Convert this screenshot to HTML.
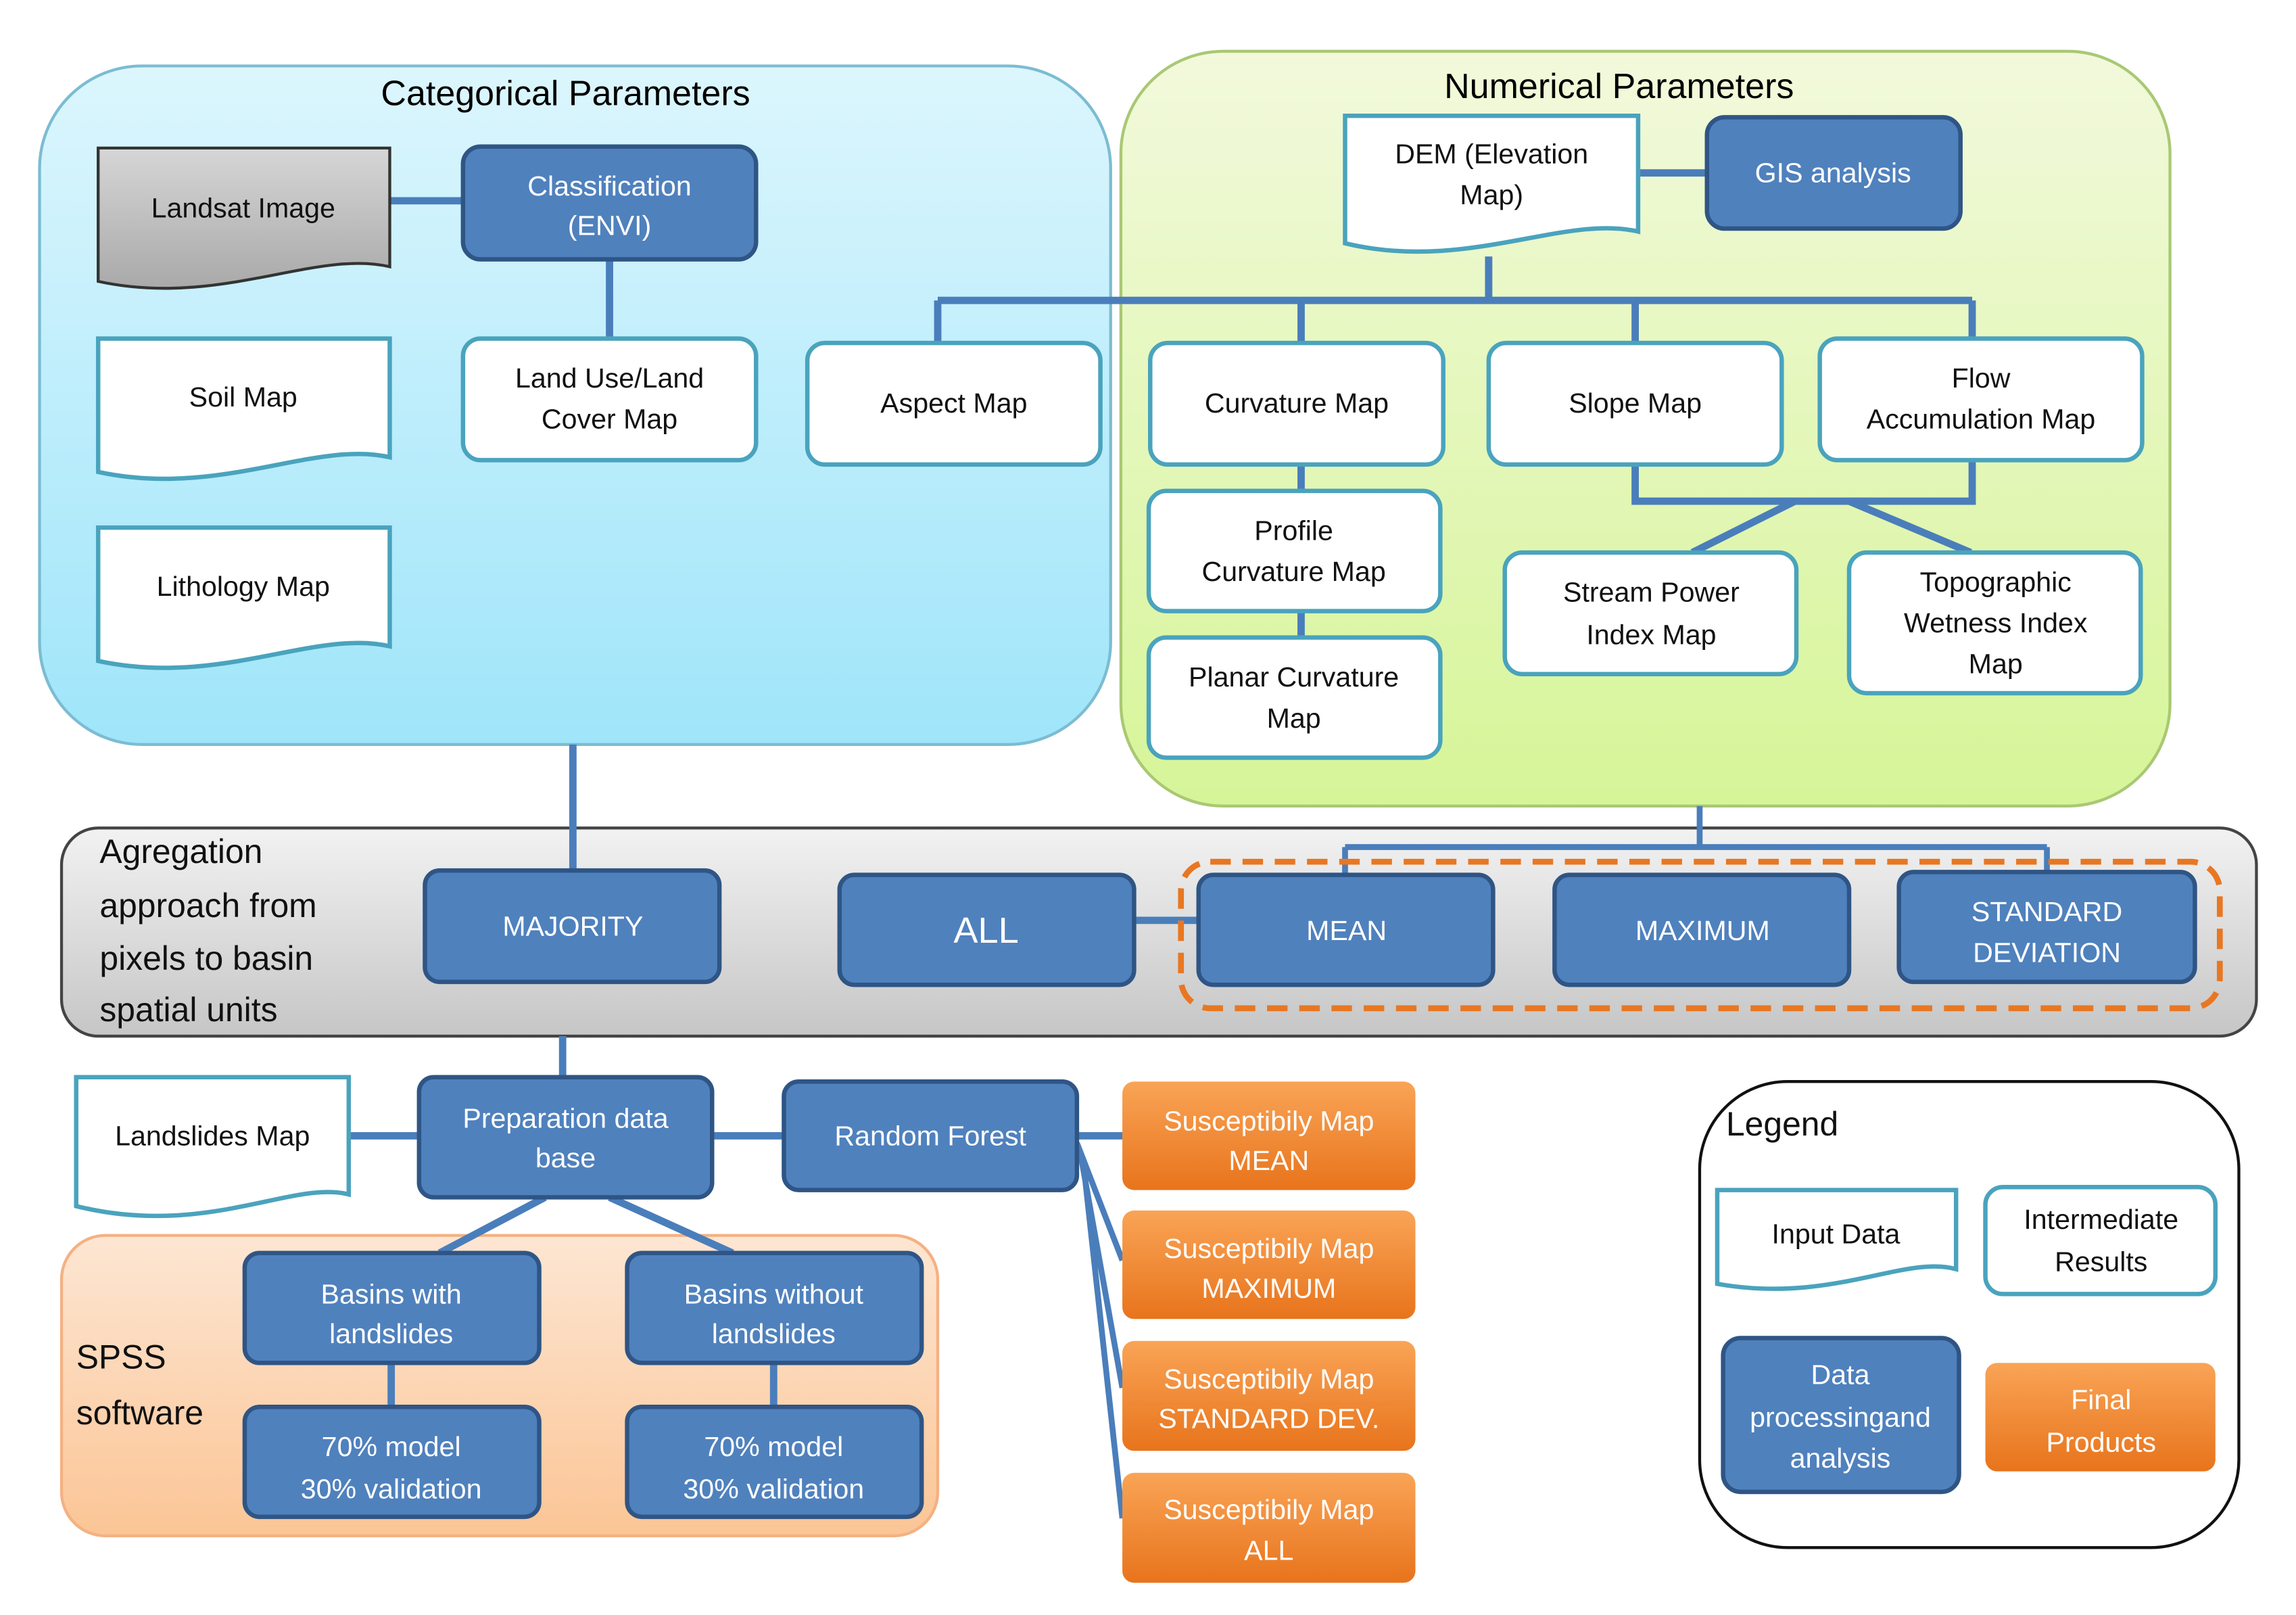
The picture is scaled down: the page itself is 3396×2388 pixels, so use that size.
<!DOCTYPE html>
<html><head><meta charset="utf-8"><style>html,body{margin:0;padding:0;background:#fff}svg{display:block}text{font-family:"Liberation Sans",sans-serif;font-size:19px;text-anchor:middle;dominant-baseline:central}text.big{font-size:23px;text-anchor:start}</style></head><body>
<svg width="3396" height="2388" viewBox="0 0 1567 1102" preserveAspectRatio="none" xmlns="http://www.w3.org/2000/svg">
<defs>
<linearGradient id="gc" x1="0" y1="0" x2="0" y2="1"><stop offset="0" stop-color="#dcf6fd"/><stop offset="1" stop-color="#9fe5fa"/></linearGradient>
<linearGradient id="gn" x1="0" y1="0" x2="0" y2="1"><stop offset="0" stop-color="#f2f9dc"/><stop offset="1" stop-color="#d6f598"/></linearGradient>
<linearGradient id="gg" x1="0" y1="0" x2="0" y2="1"><stop offset="0" stop-color="#f2f2f2"/><stop offset="1" stop-color="#c6c6c6"/></linearGradient>
<linearGradient id="gp" x1="0" y1="0" x2="0" y2="1"><stop offset="0" stop-color="#fde6d3"/><stop offset="1" stop-color="#fbc595"/></linearGradient>
<linearGradient id="go" x1="0" y1="0" x2="0" y2="1"><stop offset="0" stop-color="#f9a456"/><stop offset="1" stop-color="#e8741c"/></linearGradient>
<linearGradient id="gl" x1="0" y1="0" x2="0" y2="1"><stop offset="0" stop-color="#d6d6d6"/><stop offset="1" stop-color="#a9a9a9"/></linearGradient>
</defs>
<rect x="27" y="45" width="731" height="463" rx="70" fill="url(#gc)" stroke="#7cbcd2" stroke-width="2"/>
<rect x="765" y="35" width="716" height="515" rx="70" fill="url(#gn)" stroke="#a9c874" stroke-width="2"/>
<rect x="42" y="565" width="1498" height="142" rx="25" fill="url(#gg)" stroke="#444" stroke-width="2"/>
<rect x="42" y="843" width="598" height="205" rx="30" fill="url(#gp)" stroke="#f4b183" stroke-width="2"/>
<rect x="1160" y="738" width="368" height="318" rx="60" fill="#fff" stroke="#111" stroke-width="2"/>
<text x="386" y="64" style="font-size:24px">Categorical Parameters</text>
<text x="1105" y="59" style="font-size:24px">Numerical Parameters</text>
<g stroke="#4a7ebb" stroke-width="5" fill="none">
<path d="M266 137H316M416 177V231"/>
<path d="M1118 118H1165M1016 175V205M640 205H1346M640 205V234M888 205V234M1116 205V234M1346 205V232"/>
<path d="M888 317V335M888 417V435M1116 317V342H1346V314M1225 342L1155 377M1262 342L1345 377"/>
<path d="M391 508V595M774 628H818"/>
<path d="M384 707V735M238 775H286M486 775H535M735 775H766"/>
<path d="M372 817L300 855M416 817L500 855M267 930V960M528 930V960"/>
<path d="M735 780L766 860M737 785L766 947M739 790L766 1036" stroke-width="4"/>
<path d="M1160 550V578M918 578H1397M918 578V597M1397 578V595" stroke-width="4"/>
</g>
<rect x="806" y="588" width="709" height="100" rx="20" fill="none" stroke="#e87722" stroke-width="4" stroke-dasharray="14,8"/>
<g stroke-width="3">
<path d="M67 101H266V182C215 170,150 210,67 192Z" fill="url(#gl)" stroke="#333" stroke-width="2"/>
<path d="M67 231H266V312C215 300,150 340,67 322Z" fill="#fff" stroke="#4aa3bd"/>
<path d="M67 360H266V441C215 429,150 469,67 451Z" fill="#fff" stroke="#4aa3bd"/>
<path d="M918 79H1118V158C1068 146,1000 186,918 166Z" fill="#fff" stroke="#4aa3bd"/>
<path d="M52 735H238V815C200 805,140 845,52 823Z" fill="#fff" stroke="#4aa3bd"/>
<path d="M1172 812H1335V866C1300 856,1250 890,1172 876Z" fill="#fff" stroke="#4aa3bd"/>
</g>
<g fill="#fff" stroke="#4aa3bd" stroke-width="3">
<rect x="316" y="231" width="200" height="83" rx="12"/>
<rect x="551" y="234" width="200" height="83" rx="12"/>
<rect x="785" y="234" width="200" height="83" rx="12"/>
<rect x="1016" y="234" width="200" height="83" rx="12"/>
<rect x="1242" y="231" width="220" height="83" rx="12"/>
<rect x="784" y="335" width="199" height="82" rx="12"/>
<rect x="784" y="435" width="199" height="82" rx="12"/>
<rect x="1027" y="377" width="199" height="83" rx="12"/>
<rect x="1262" y="377" width="199" height="96" rx="12"/>
<rect x="1355" y="810" width="157" height="73" rx="12"/>
</g>
<g fill="#4f81bd" stroke="#2f5585" stroke-width="3">
<rect x="316" y="100" width="200" height="77" rx="12"/>
<rect x="1165" y="80" width="173" height="76" rx="12"/>
<rect x="290" y="594" width="201" height="76" rx="10"/>
<rect x="573" y="597" width="201" height="75" rx="10"/>
<rect x="818" y="597" width="201" height="75" rx="10"/>
<rect x="1061" y="597" width="201" height="75" rx="10"/>
<rect x="1296" y="595" width="202" height="75" rx="10"/>
<rect x="286" y="735" width="200" height="82" rx="10"/>
<rect x="535" y="738" width="200" height="74" rx="10"/>
<rect x="167" y="855" width="201" height="75" rx="10"/>
<rect x="428" y="855" width="201" height="75" rx="10"/>
<rect x="167" y="960" width="201" height="75" rx="10"/>
<rect x="428" y="960" width="201" height="75" rx="10"/>
<rect x="1176" y="913" width="161" height="105" rx="12"/>
</g>
<g fill="url(#go)">
<rect x="766" y="738" width="200" height="74" rx="8"/>
<rect x="766" y="826" width="200" height="74" rx="8"/>
<rect x="766" y="915" width="200" height="75" rx="8"/>
<rect x="766" y="1005" width="200" height="75" rx="8"/>
<rect x="1355" y="930" width="157" height="74" rx="8"/>
</g>
<g fill="#111">
<text x="166" y="142">Landsat Image</text>
<text x="166" y="271">Soil Map</text>
<text x="166" y="400">Lithology Map</text>
<text x="416" y="258">Land Use/Land</text><text x="416" y="286">Cover  Map</text>
<text x="651" y="275">Aspect Map</text>
<text x="1018" y="105">DEM (Elevation</text><text x="1018" y="133">Map)</text>
<text x="885" y="275">Curvature Map</text>
<text x="1116" y="275">Slope Map</text>
<text x="1352" y="258">Flow</text><text x="1352" y="286">Accumulation Map</text>
<text x="883" y="362">Profile</text><text x="883" y="390">Curvature Map</text>
<text x="883" y="462">Planar Curvature</text><text x="883" y="490">Map</text>
<text x="1127" y="404">Stream Power</text><text x="1127" y="433">Index Map</text>
<text x="1362" y="397">Topographic</text><text x="1362" y="425">Wetness Index</text><text x="1362" y="453">Map</text>
<text x="145" y="775">Landslides Map</text>
<text x="1253" y="842">Input Data</text>
<text x="1434" y="832">Intermediate</text><text x="1434" y="861">Results</text>
<text class="big" x="68" y="581">Agregation</text>
<text class="big" x="68" y="618">approach from</text>
<text class="big" x="68" y="654">pixels to basin</text>
<text class="big" x="68" y="689">spatial units</text>
<text class="big" x="52" y="926">SPSS</text>
<text class="big" x="52" y="964">software</text>
<text class="big" x="1178" y="767">Legend</text>
</g>
<g fill="#fff">
<text x="416" y="127">Classification</text><text x="416" y="154">(ENVI)</text>
<text x="1251" y="118">GIS analysis</text>
<text x="391" y="632">MAJORITY</text>
<text x="673" y="635" style="font-size:25px">ALL</text>
<text x="919" y="635">MEAN</text>
<text x="1162" y="635">MAXIMUM</text>
<text x="1397" y="622">STANDARD</text><text x="1397" y="650">DEVIATION</text>
<text x="386" y="763">Preparation data</text><text x="386" y="790">base</text>
<text x="635" y="775">Random Forest</text>
<text x="267" y="883">Basins with</text><text x="267" y="910">landslides</text>
<text x="528" y="883">Basins without</text><text x="528" y="910">landslides</text>
<text x="267" y="987">70% model</text><text x="267" y="1016">30% validation</text>
<text x="528" y="987">70% model</text><text x="528" y="1016">30% validation</text>
<text x="866" y="765">Susceptibily Map</text><text x="866" y="792">MEAN</text>
<text x="866" y="852">Susceptibily Map</text><text x="866" y="879">MAXIMUM</text>
<text x="866" y="941">Susceptibily Map</text><text x="866" y="968">STANDARD DEV.</text>
<text x="866" y="1030">Susceptibily Map</text><text x="866" y="1058">ALL</text>
<text x="1256" y="938">Data</text><text x="1256" y="967">processingand</text><text x="1256" y="995">analysis</text>
<text x="1434" y="955">Final</text><text x="1434" y="984">Products</text>
</g>
</svg>
</body></html>
